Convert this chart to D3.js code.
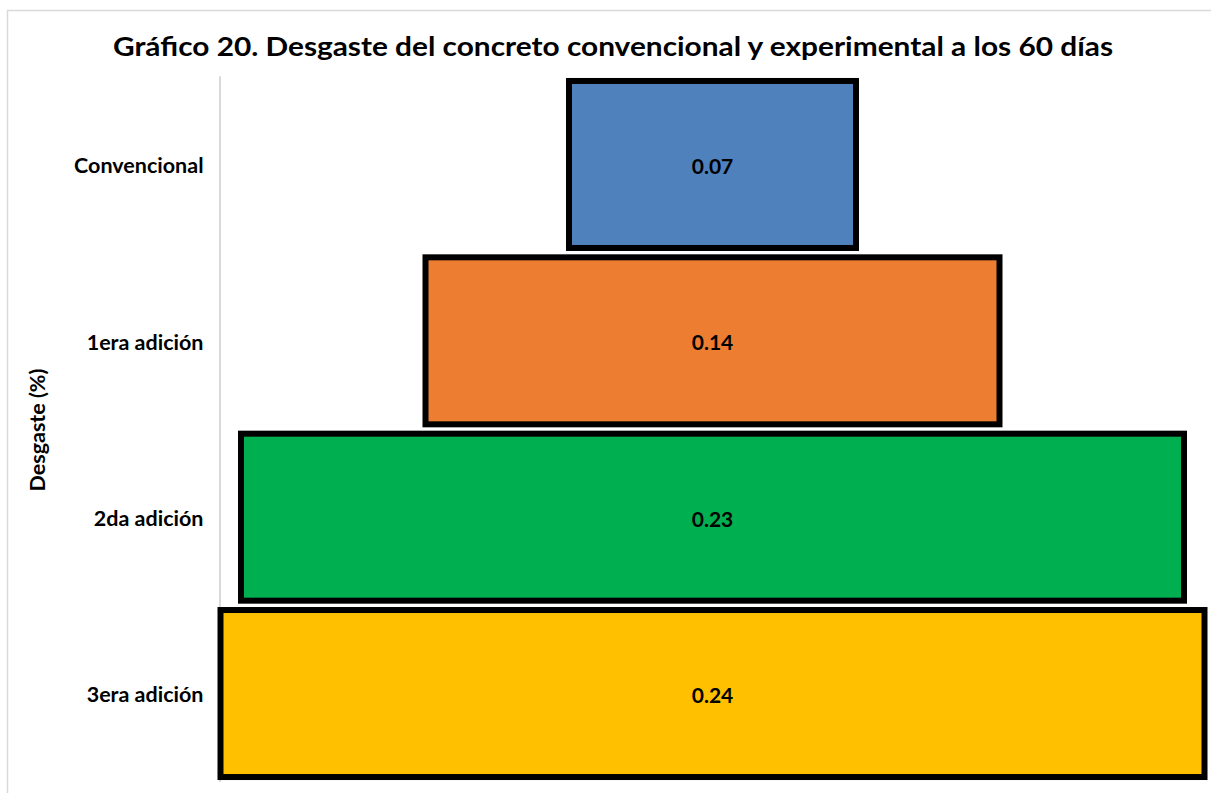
<!DOCTYPE html>
<html>
<head>
<meta charset="utf-8">
<script src="https://cdn.jsdelivr.net/npm/d3@7"></script>
<style>
  html, body { margin: 0; padding: 0; background: #fff; overflow: hidden; }
  svg { display: block; }
  text { font-family: Lato, "Open Sans", sans-serif; font-weight: bold; fill: #000; }
</style>
</head>
<body>
<script>
// Wear (%) of conventional and experimental concrete at 60 days
const categories = ["Convencional", "1era adición", "2da adición", "3era adición"];
const values = [0.07, 0.14, 0.23, 0.24];
const colors = ["#4F81BD", "#ED7D31", "#00B050", "#FFC000"];
const titleText = "Gráfico 20. Desgaste del concreto convencional y experimental a los 60 días";
const yTitle = "Desgaste (%)";

const W = 1211, H = 793;
const plot = { left: 220.5, right: 1204.5, top: 76.3, bottom: 781.7 };

const svg = d3.select("body").append("svg").attr("width", W).attr("height", H);

// chart frame
svg.append("rect")
  .attr("x", 7.5).attr("y", 10.5)
  .attr("width", W + 20).attr("height", H + 20)
  .attr("fill", "none").attr("stroke", "#d9d9d9").attr("stroke-width", 1.5);

// title
svg.append("text")
  .attr("x", 613).attr("y", 56)
  .attr("text-anchor", "middle")
  .attr("font-size", 27)
  .attr("textLength", 1000)
  .attr("lengthAdjust", "spacingAndGlyphs")
  .text(titleText);

// scales: bars are centred horizontally, forming a funnel
const x = d3.scaleLinear().domain([0, d3.max(values)]).range([0, plot.right - plot.left]);
const cx = (plot.left + plot.right) / 2;
const y = d3.scaleBand().domain(categories)
  .range([plot.top, plot.bottom])
  .paddingInner(0.053).paddingOuter(0.0265);

// vertical category axis line
svg.append("line")
  .attr("x1", plot.left - 0.5).attr("x2", plot.left - 0.5)
  .attr("y1", plot.top).attr("y2", plot.bottom)
  .attr("stroke", "#d9d9d9").attr("stroke-width", 2);

const data = categories.map((c, i) => ({ c, v: values[i], col: colors[i] }));

// bars
svg.append("g").selectAll("rect").data(data).join("rect")
  .attr("x", d => cx - x(d.v) / 2)
  .attr("y", d => y(d.c))
  .attr("width", d => x(d.v))
  .attr("height", y.bandwidth())
  .attr("fill", d => d.col)
  .attr("stroke", "#000").attr("stroke-width", 6);

// value labels
svg.append("g").selectAll("text").data(data).join("text")
  .attr("x", cx)
  .attr("y", d => y(d.c) + y.bandwidth() / 2 + 2)
  .attr("dy", "0.35em")
  .attr("text-anchor", "middle")
  .attr("font-size", 21)
  .text(d => d3.format(".2f")(d.v));

// category labels
const yAxis = d3.axisLeft(y).tickSize(0).tickPadding(17);
const gy = svg.append("g").attr("transform", `translate(${plot.left},2)`).call(yAxis);
gy.select(".domain").remove();
gy.selectAll("text")
  .attr("font-size", 21.5)
  .attr("font-family", "Lato, 'Open Sans', sans-serif")
  .attr("font-weight", "bold")
  .attr("fill", "#000");

// axis title
svg.append("text")
  .attr("transform", `translate(45,430) rotate(-90)`)
  .attr("text-anchor", "middle")
  .attr("font-size", 21.5)
  .text(yTitle);
</script>
</body>
</html>
